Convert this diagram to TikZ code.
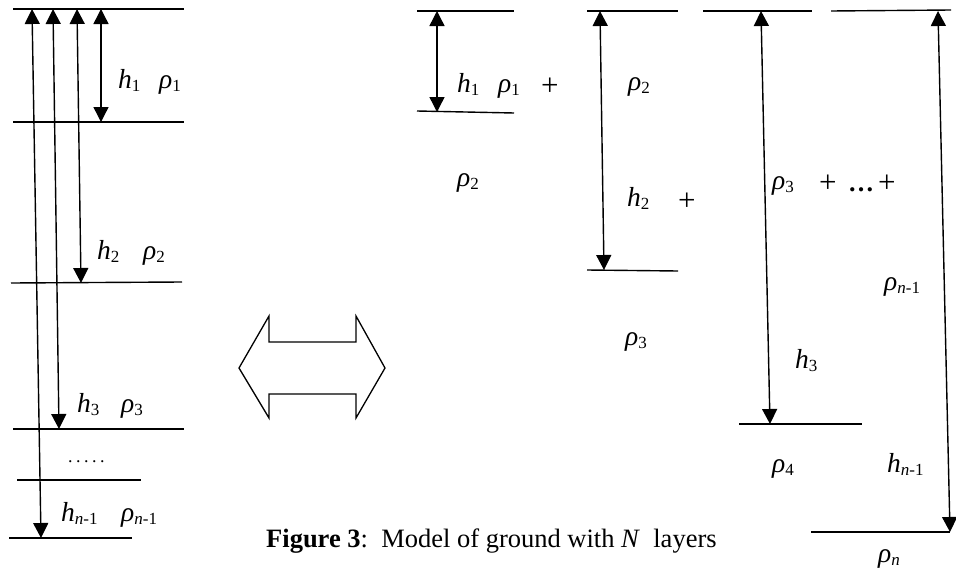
\documentclass[tikz,border=0pt]{standalone}
\usepackage{fontspec}
\setmainfont{Liberation Serif}
\usetikzlibrary{arrows.meta}
\newcommand{\sbx}[1]{\raisebox{-3pt}{\fontsize{17}{17}\selectfont #1}}
\tikzset{
  layer/.style={line width=1.4pt},
  dimarrow/.style={line width=1.4pt,{Triangle[width=15pt,length=15pt]}-{Triangle[width=15pt,length=15pt]}},
  lbl/.style={anchor=base west, inner sep=0pt, font=\fontsize{27.5}{27.5}\selectfont},
  plus/.style={anchor=base west, inner sep=0pt, font=\fontsize{31}{31}\selectfont},
}
\begin{document}
\begin{tikzpicture}[x=1pt,y=-1pt]
\useasboundingbox (0,0) rectangle (956,570);
% ---------- left model ----------
\coordinate (L0a) at (13,9);   \coordinate (L0b) at (184,9);
\coordinate (L1a) at (13,122); \coordinate (L1b) at (184,122);
\coordinate (L2a) at (11,283); \coordinate (L2b) at (182,282);
\coordinate (L3a) at (13,429); \coordinate (L3b) at (184,429);
\coordinate (L4a) at (17,480); \coordinate (L4b) at (141,480);
\coordinate (L5a) at (9,538);  \coordinate (L5b) at (132,538);
\foreach \i in {0,...,5} \draw[layer] (L\i a) -- (L\i b);
\coordinate (A1t) at (101,9); \coordinate (A1b) at (101,122);
\coordinate (A2t) at (77,9);  \coordinate (A2b) at (81,283);
\coordinate (A3t) at (53,9);  \coordinate (A3b) at (59,429);
\coordinate (A4t) at (32,9);  \coordinate (A4b) at (41,538);
\foreach \i in {1,...,4} \draw[dimarrow] (A\i t) -- (A\i b);
\node[lbl] (lh1) at (118,88) {\textit{h}\sbx{1}};
\node[lbl] (lr1) at (159,88) {\textit{ρ}\sbx{1}};
\node[lbl] (lh2) at (97,259) {\textit{h}\sbx{2}};
\node[lbl] (lr2) at (143,259) {\textit{ρ}\sbx{2}};
\node[lbl] (lh3) at (77,412) {\textit{h}\sbx{3}};
\node[lbl] (lr3) at (121,412) {\textit{ρ}\sbx{3}};
\node[lbl] (ldots) at (68,462) {\fontsize{18}{18}\selectfont .\kern3.5pt.\kern3.5pt.\kern3.5pt.\kern3.5pt.};
\node[lbl] (lhn) at (61,521) {\textit{h}\sbx{\textit{n}-1}};
\node[lbl] (lrn) at (121,521) {\textit{ρ}\sbx{\textit{n}-1}};
% ---------- equivalence arrow ----------
\draw[line width=1.3pt] (239,368) -- (269,316) -- (269,342) -- (356,342) -- (356,316)
  -- (385,368) -- (356,418) -- (356,394) -- (269,394) -- (269,418) -- cycle;
% ---------- right decomposition ----------
\coordinate (B1ta) at (417,11);  \coordinate (B1tb) at (514,11);
\coordinate (B1ba) at (417,111); \coordinate (B1bb) at (514,113);
\coordinate (B2ta) at (587,11);  \coordinate (B2tb) at (678,11);
\coordinate (B2ba) at (587,270); \coordinate (B2bb) at (678,271);
\coordinate (B3ta) at (703,11);  \coordinate (B3tb) at (812,11);
\coordinate (B3ba) at (739,424); \coordinate (B3bb) at (862,424);
\coordinate (B4ta) at (831,11);  \coordinate (B4tb) at (951,10);
\coordinate (B4ba) at (811,532); \coordinate (B4bb) at (950,532);
\foreach \i in {1,...,4} {
  \draw[layer] (B\i ta) -- (B\i tb);
  \draw[layer] (B\i ba) -- (B\i bb);
}
\coordinate (R1t) at (437,11);  \coordinate (R1b) at (437,112);
\coordinate (R2t) at (600,11);  \coordinate (R2b) at (604,270);
\coordinate (R3t) at (761,11);  \coordinate (R3b) at (770,424);
\coordinate (R4t) at (938,11);  \coordinate (R4b) at (950,532);
\foreach \i in {1,...,4} \draw[dimarrow] (R\i t) -- (R\i b);
\node[lbl] (rh1) at (457,92) {\textit{h}\sbx{1}};
\node[lbl] (rr1) at (498,92) {\textit{ρ}\sbx{1}};
\node[plus] (p1) at (541,95) {+};
\node[lbl] (rr2a) at (457,186) {\textit{ρ}\sbx{2}};
\node[lbl] (rr2b) at (628,90) {\textit{ρ}\sbx{2}};
\node[lbl] (rh2) at (627,206) {\textit{h}\sbx{2}};
\node[plus] (p2) at (678,210) {+};
\node[lbl] (rr3a) at (625,345) {\textit{ρ}\sbx{3}};
\node[lbl] (rr3b) at (772,189) {\textit{ρ}\sbx{3}};
\node[plus] (p3) at (819,192) {+};
\node[lbl, font=\fontsize{26}{26}\selectfont\bfseries] (dots) at (848,191) {…};
\node[plus] (p4) at (878,192) {+};
\node[lbl] (rrn1) at (884,290) {\textit{ρ}\sbx{\textit{n}-1}};
\node[lbl] (rh3) at (795,368) {\textit{h}\sbx{3}};
\node[lbl] (rr4) at (772,472) {\textit{ρ}\sbx{4}};
\node[lbl] (rhn) at (887,472) {\textit{h}\sbx{\textit{n}-1}};
\node[lbl] (rrn) at (878,562) {\textit{ρ}\sbx{\textit{n}}};
% ---------- caption ----------
\node[anchor=base west, inner sep=0pt, font=\fontsize{26.5}{26.5}\selectfont] (cap) at (266,547)
  {\textbf{Figure 3}:\ \ Model of ground with \textit{N}\ \ layers};
\end{tikzpicture}
\end{document}
